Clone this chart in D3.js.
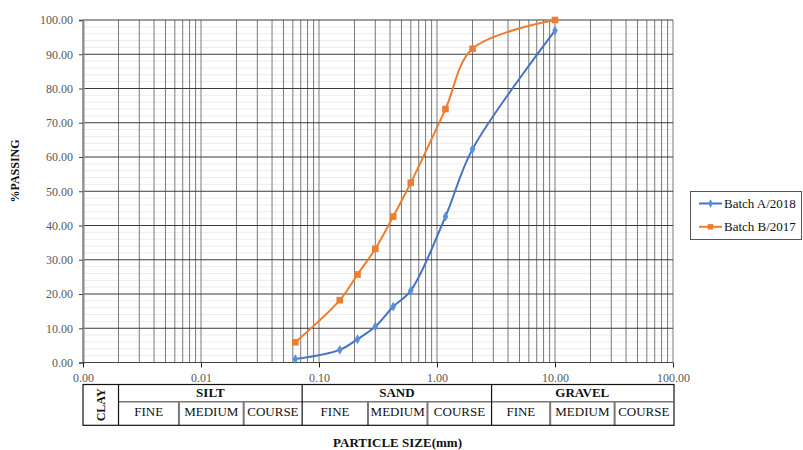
<!DOCTYPE html>
<html>
<head>
<meta charset="utf-8">
<script src="https://cdn.jsdelivr.net/npm/d3@7/dist/d3.min.js"></script>
<style>
  html, body { margin: 0; padding: 0; background: #fff; }
  svg { display: block; }
  text { font-family: "Liberation Serif", "Times New Roman", serif; }
</style>
</head>
<body>
<svg id="chart" width="803" height="450"></svg>
<script>
// ---- data ----
const sieveSizes = [0.063, 0.15, 0.212, 0.3, 0.425, 0.6, 1.18, 2.0, 10.0];
const batchA = [1.0, 3.7, 6.8, 10.5, 16.3, 21.0, 42.6, 62.3, 96.9];
const batchB = [5.9, 18.2, 25.7, 33.2, 42.6, 52.5, 74.0, 91.6, 100.0];
const seriesNames = ["Batch A/2018", "Batch B/2017"];
const xTicks = [0.001, 0.01, 0.1, 1, 10, 100];
const yTicks = [0, 10, 20, 30, 40, 50, 60, 70, 80, 90, 100];
// soil classification table (boundaries in mm)
const soilGroups = [
  { name: "SILT", from: 0.002, to: 0.072 },
  { name: "SAND", from: 0.072, to: 2.9 },
  { name: "GRAVEL", from: 2.9, to: 100 }
];
const soilSubs = [
  { name: "FINE", from: 0.002, to: 0.0065 },
  { name: "MEDIUM", from: 0.0065, to: 0.023 },
  { name: "COURSE", from: 0.023, to: 0.072 },
  { name: "FINE", from: 0.072, to: 0.26 },
  { name: "MEDIUM", from: 0.26, to: 0.83 },
  { name: "COURSE", from: 0.83, to: 2.9 },
  { name: "FINE", from: 2.9, to: 9.1 },
  { name: "MEDIUM", from: 9.1, to: 32 },
  { name: "COURSE", from: 32, to: 100 }
];
const clayLimit = 0.002;

// ---- layout ----
const svg = d3.select("#chart");
const L = 83, R = 673, T = 20, B = 362.5;
const x = d3.scaleLog().domain([0.001, 100]).range([L, R]);
const y = d3.scaleLinear().domain([0, 100]).range([B, T]);
const colors = ["#4472C4", "#ED7D31"];

// minor horizontal gridlines
const yMinor = d3.range(0, 101, 2).filter(v => v % 10 !== 0);
svg.append("g").selectAll("line").data(yMinor).join("line")
  .attr("x1", L).attr("x2", R)
  .attr("y1", d => y(d)).attr("y2", d => y(d))
  .attr("stroke", "#ececec").attr("stroke-width", 1);

// vertical gridlines (all log ticks)
const xAll = x.ticks(50);
svg.append("g").selectAll("line").data(xAll).join("line")
  .attr("x1", d => x(d)).attr("x2", d => x(d))
  .attr("y1", T).attr("y2", B)
  .attr("stroke", "#7a7a7a").attr("stroke-width", 1);

// major horizontal gridlines
svg.append("g").selectAll("line").data(yTicks).join("line")
  .attr("x1", L).attr("x2", R)
  .attr("y1", d => y(d)).attr("y2", d => y(d))
  .attr("stroke", "#3a3a3a").attr("stroke-width", 1);

// y axis
const yAxis = svg.append("g").attr("transform", `translate(${L},0)`)
  .call(d3.axisLeft(y).tickValues(yTicks).tickFormat(d3.format(".2f")).tickSize(4).tickPadding(6));
yAxis.select(".domain").attr("stroke", "#8a8a8a").attr("stroke-width", 2);
yAxis.selectAll(".tick line").attr("stroke", "#444");
yAxis.selectAll("text").attr("fill", "#595959")
  .style("font-family", "'Liberation Serif', serif").style("font-size", "12px");

// x axis
const xAxis = svg.append("g").attr("transform", `translate(0,${B})`)
  .call(d3.axisBottom(x).tickValues(xTicks).tickFormat(d3.format(".2f")).tickSize(5).tickPadding(6));
xAxis.select(".domain").attr("stroke", "#444").attr("stroke-width", 1).attr("d", `M${L},0H${R}`);
xAxis.selectAll(".tick line").attr("stroke", "#222");
xAxis.selectAll("text").attr("fill", "#595959")
  .style("font-family", "'Liberation Serif', serif").style("font-size", "12px");

// series
const seriesData = [batchA, batchB];
const line = d3.line().x(d => x(d[0])).y(d => y(d[1])).curve(d3.curveCatmullRom.alpha(0.5));
seriesData.forEach((vals, i) => {
  const pts = sieveSizes.map((s, j) => [s, vals[j]]);
  svg.append("path").attr("d", line(pts)).attr("fill", "none")
    .attr("stroke", colors[i]).attr("stroke-width", 2);
  const sym = i === 0 ? d3.symbol(d3.symbolDiamond, 28) : d3.symbol(d3.symbolSquare, 44);
  svg.append("g").selectAll("path").data(pts).join("path")
    .attr("transform", d => `translate(${x(d[0])},${y(d[1])})`)
    .attr("d", sym)
    .attr("fill", i === 0 ? "#5B8FD6" : colors[i]);
});

// legend
const lg = svg.append("g");
lg.append("rect").attr("x", 690.5).attr("y", 191.5).attr("width", 111).attr("height", 48)
  .attr("fill", "#fff").attr("stroke", "#555").attr("stroke-width", 1);
seriesNames.forEach((n, i) => {
  const yy = 203.5 + i * 23.3;
  lg.append("line").attr("x1", 699).attr("x2", 722).attr("y1", yy).attr("y2", yy)
    .attr("stroke", colors[i]).attr("stroke-width", 2);
  const sym = i === 0 ? d3.symbol(d3.symbolDiamond, 20) : d3.symbol(d3.symbolSquare, 30);
  lg.append("path").attr("transform", `translate(710.5,${yy})`).attr("d", sym)
    .attr("fill", i === 0 ? "#5B8FD6" : colors[i]);
  lg.append("text").attr("x", 724).attr("y", yy + 4).text(n)
    .style("font-size", "13px").attr("fill", "#111");
});

// axis titles
svg.append("text").attr("transform", "translate(19,171) rotate(-90)")
  .attr("text-anchor", "middle").style("font-size", "12px").style("font-weight", "bold")
  .attr("fill", "#111").text("%PASSING");
svg.append("text").attr("x", 397.5).attr("y", 447)
  .attr("text-anchor", "middle").style("font-size", "13px").style("font-weight", "bold")
  .attr("fill", "#111").text("PARTICLE SIZE(mm)");

// classification table
const tT = 384.5, tM = 401.7, tB = 425.3;
const tg = svg.append("g");
// sub dividers (gray)
const subInner = soilSubs.filter((d, i) => !soilGroups.some(g => g.from === d.from));
tg.selectAll("line.sub").data(subInner).join("line")
  .attr("x1", d => x(d.from)).attr("x2", d => x(d.from))
  .attr("y1", tM).attr("y2", tB).attr("stroke", "#777").attr("stroke-width", 2);
// middle row line
tg.append("line").attr("x1", x(clayLimit)).attr("x2", x(100)).attr("y1", tM).attr("y2", tM)
  .attr("stroke", "#777").attr("stroke-width", 1.5);
// group dividers
tg.selectAll("line.grp").data(soilGroups).join("line")
  .attr("x1", d => x(d.from)).attr("x2", d => x(d.from))
  .attr("y1", tT).attr("y2", tB).attr("stroke", "#111").attr("stroke-width", 1.2);
// outer box
tg.append("rect").attr("x", x(0.001)).attr("y", tT).attr("width", x(100) - x(0.001) + 1).attr("height", tB - tT)
  .attr("fill", "none").attr("stroke", "#111").attr("stroke-width", 1.2);
// texts
tg.selectAll("text.grp").data(soilGroups).join("text")
  .attr("x", d => (x(d.from) + x(d.to)) / 2).attr("y", tM - 4.5)
  .attr("text-anchor", "middle").style("font-size", "13px").style("font-weight", "bold")
  .attr("fill", "#111").text(d => d.name);
tg.selectAll("text.sub").data(soilSubs).join("text")
  .attr("x", d => (x(d.from) + x(d.to)) / 2).attr("y", tB - 9.5)
  .attr("text-anchor", "middle").style("font-size", "13px")
  .attr("fill", "#111").text(d => d.name);
tg.append("text")
  .attr("transform", `translate(${(x(0.001) + x(clayLimit)) / 2 + 4.5},${(tT + tB) / 2}) rotate(-90)`)
  .attr("text-anchor", "middle").style("font-size", "12px").style("font-weight", "bold")
  .attr("fill", "#111").text("CLAY");
</script>
</body>
</html>
